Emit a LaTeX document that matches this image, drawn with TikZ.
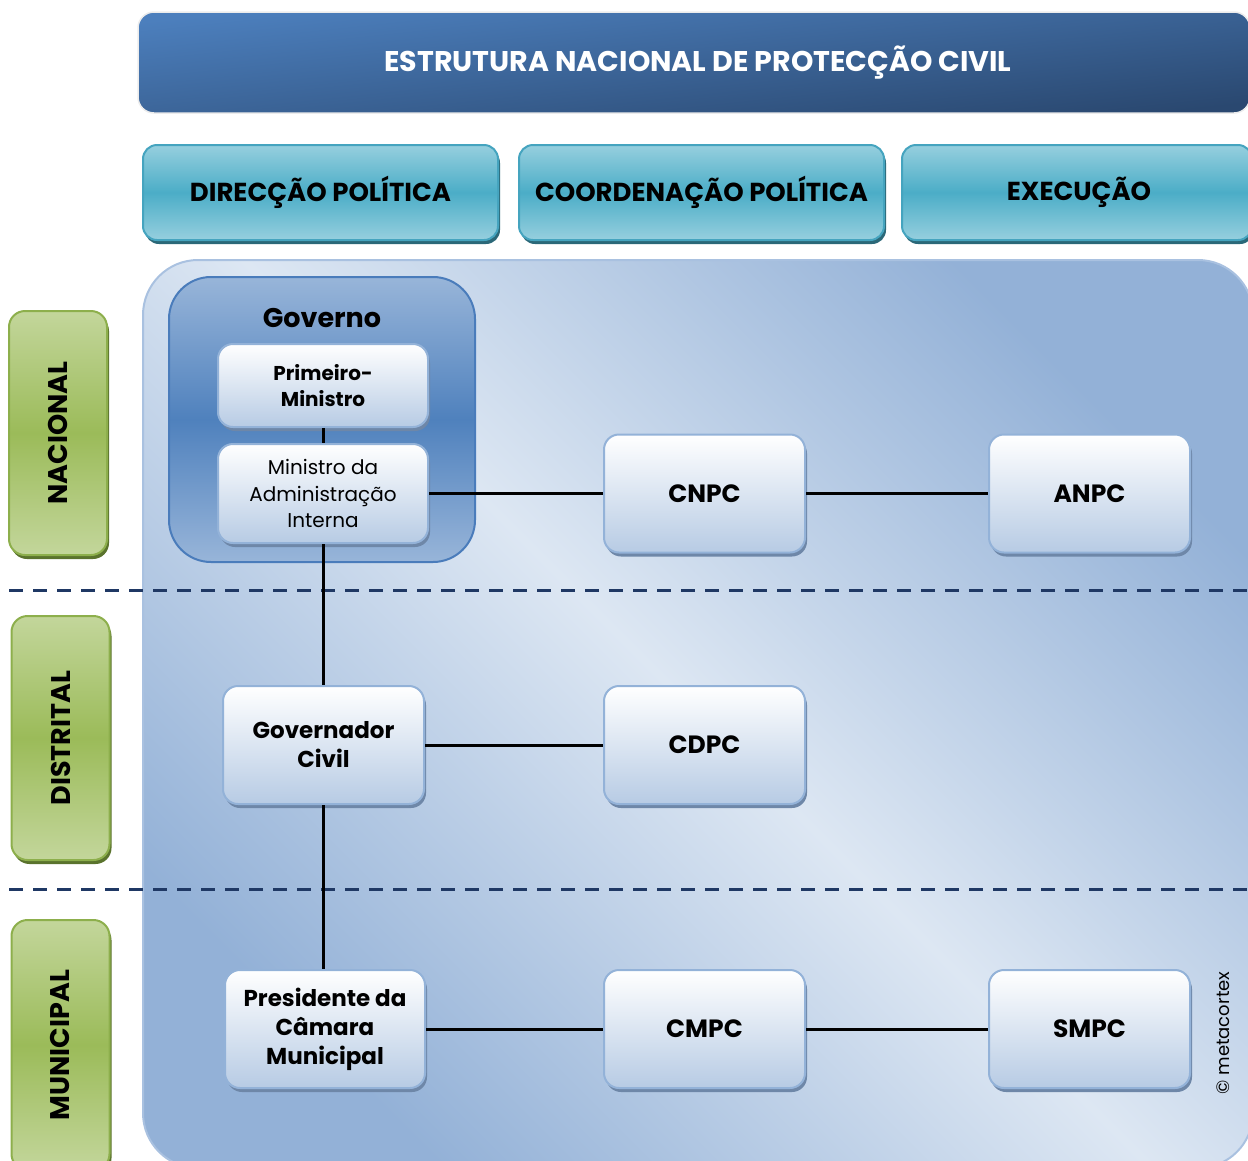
\documentclass[tikz,border=0pt]{standalone}
\usepackage{fontspec}
\usepackage{graphicx}
\setmainfont{Poppins}
\usetikzlibrary{shadows}
\definecolor{titleA}{HTML}{4C7FBD}
\definecolor{titleB}{HTML}{2A4870}
\definecolor{tealL}{HTML}{96CFDE}
\definecolor{tealD}{HTML}{4BADC7}
\definecolor{tealB}{HTML}{45A4BF}
\definecolor{tealS}{HTML}{2B6878}
\definecolor{grnL}{HTML}{C3D69B}
\definecolor{grnD}{HTML}{9BBB59}
\definecolor{grnB}{HTML}{8DAF4C}
\definecolor{grnS}{HTML}{5A732D}
\definecolor{panL}{HTML}{DDE7F3}
\definecolor{panD}{HTML}{93B1D7}
\definecolor{panB}{HTML}{A9C1E0}
\definecolor{govL}{HTML}{98B5D9}
\definecolor{govD}{HTML}{4F81BD}
\definecolor{govB}{HTML}{4A7CBB}
\definecolor{boxBot}{HTML}{B7CBE4}
\definecolor{boxB}{HTML}{93B2D8}
\definecolor{boxS}{HTML}{6E87A8}
\definecolor{dashC}{HTML}{1F3864}
\tikzset{
  x=1pt,y=-1pt,
  hdr/.style={rectangle,rounded corners=14pt,draw=tealB,line width=2pt,
    top color=tealL,bottom color=tealL,middle color=tealD,
    drop shadow={shadow xshift=2pt,shadow yshift=-4pt,fill=tealS,opacity=1},
    inner sep=0pt,minimum height=95pt,
    font=\fontsize{26}{30}\selectfont\bfseries},
  lvl/.style={rectangle,rounded corners=16pt,draw=grnB,line width=2pt,
    top color=grnL,bottom color=grnL,middle color=grnD,
    drop shadow={shadow xshift=2pt,shadow yshift=-4pt,fill=grnS,opacity=1},
    inner sep=0pt,minimum width=98pt,minimum height=244pt,
    font=\fontsize{27}{30}\selectfont\bfseries},
  orgbox/.style={rectangle,rounded corners=15pt,draw=boxB,line width=2pt,
    top color=white,bottom color=boxBot,
    drop shadow={shadow xshift=2pt,shadow yshift=-4pt,fill=boxS,opacity=1},
    inner sep=0pt,minimum width=201pt,minimum height=118pt,align=center,
    font=\fontsize{25}{29}\selectfont\bfseries},
  conn/.style={draw=black,line width=3pt},
  lvlline/.style={draw=dashC,line width=3pt,dash pattern=on 14pt off 10pt}
}
\begin{document}
\begin{tikzpicture}
\useasboundingbox (0,0) rectangle (1248,1160);
\clip (0,0) rectangle (1248,1160);
% title
\node[rectangle,rounded corners=16pt,draw=white!85!gray,line width=1.5pt,
  top color=titleA,bottom color=titleB,shading angle=6,
  minimum width=1112pt,minimum height=101pt,inner sep=0pt,
  text=white,font=\fontsize{28.5}{32}\selectfont\bfseries]
  (title) at (694,62.5) {\hspace*{8pt}ESTRUTURA NACIONAL DE PROTECÇÃO CIVIL};
% headers
\node[hdr,minimum width=355pt] (h1) at (320.5,192.5) {DIRECÇÃO POLÍTICA};
\node[hdr,minimum width=365pt] (h2) at (701.5,192.5) {COORDENAÇÃO POLÍTICA};
\node[hdr,minimum width=350pt] (h3) at (1077,192.5) {\hspace*{4pt}EXECUÇÃO};
% panel
\node[rectangle,rounded corners=55pt,draw=panB,line width=2pt,
  top color=panD,bottom color=panD,middle color=panL,shading angle=-45,
  minimum width=1110pt,minimum height=908pt,inner sep=0pt]
  (panel) at (698,714) {};
% level labels
\node[lvl] (nac) at (58,433) {\rotatebox{90}{NACIONAL}};
\node[lvl] (dis) at (60.5,738) {\rotatebox{90}{DISTRITAL}};
\node[lvl,minimum height=250pt] (mun) at (60.5,1045) {\rotatebox{90}{MUNICIPAL}};
% dashed separators
\draw[lvlline] (9,590) -- (1248,590);
\draw[lvlline] (9,889) -- (1248,889);
% governo container
\node[rectangle,rounded corners=42pt,draw=govB,line width=2pt,
  top color=govL,bottom color=govL,middle color=govD,
  minimum width=306pt,minimum height=285pt,inner sep=0pt]
  (gov) at (322,419.5) {};
\node[font=\fontsize{27}{30}\selectfont\bfseries,inner sep=0pt] (govt) at (322,318) {Governo};
% boxes
\node[orgbox,minimum width=210pt,minimum height=83pt,font=\fontsize{20}{26}\selectfont\bfseries]
  (pm) at (323,385.5) {Primeiro-\\Ministro};
\node[orgbox,minimum width=210pt,minimum height=99pt,font=\fontsize{20}{26.5}\selectfont]
  (mai) at (323,493.5) {Ministro da\\Administração\\Interna};
\node[orgbox] (cnpc) at (704.5,493.5) {CNPC};
\node[orgbox] (anpc) at (1089.5,493.5) {ANPC};
\node[orgbox,font=\fontsize{23}{29}\selectfont\bfseries] (gc) at (323.5,745) {Governador\\Civil};
\node[orgbox] (cdpc) at (704.5,745) {CDPC};
\node[orgbox,minimum width=200pt,font=\fontsize{23}{29}\selectfont\bfseries] (pcm) at (325,1029) {Presidente da\\Câmara\\Municipal};
\node[orgbox] (cmpc) at (704.5,1029) {CMPC};
\node[orgbox] (smpc) at (1089.5,1029) {SMPC};
% connectors
\draw[conn] (pm.south) -- (mai.north);
\draw[conn] (mai.east) -- (cnpc.west);
\draw[conn] (cnpc.east) -- (anpc.west);
\draw[conn] (mai.south) -- (mai.south |- gc.north);
\draw[conn] (gc.east) -- (cdpc.west);
\draw[conn] (gc.south) -- (gc.south |- pcm.north);
\draw[conn] (pcm.east) -- (cmpc.west);
\draw[conn] (cmpc.east) -- (smpc.west);
% copyright
\node[rotate=90,font=\fontsize{18}{20}\selectfont,inner sep=0pt] (copy) at (1223,1033) {© metacortex};
\end{tikzpicture}
\end{document}
